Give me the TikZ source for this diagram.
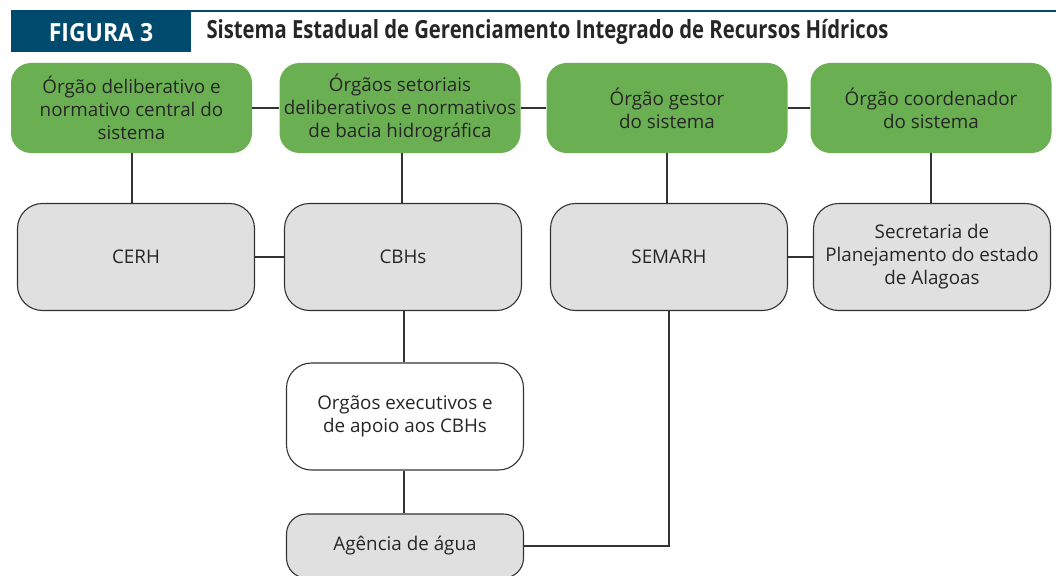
\documentclass[tikz,border=0pt]{standalone}
\usepackage{fontspec}
\setmainfont{Open Sans}
\newfontfamily\titlefont{Open Sans}[FakeStretch=0.81]
\newfontfamily\figfont{Open Sans}[FakeStretch=0.92]
\usepackage{tikz}
\definecolor{figblue}{RGB}{0,74,110}
\definecolor{orggreen}{RGB}{106,176,83}
\definecolor{orggray}{RGB}{224,224,224}
\definecolor{linegray}{RGB}{51,51,51}
\tikzset{
  greenbox/.style={fill=orggreen, rounded corners=20pt, minimum width=241pt, minimum height=90pt, align=center, inner sep=0pt, text=black!85, font=\fontsize{18.8}{23}\selectfont},
  graybox/.style={draw=linegray, line width=1.1pt, fill=orggray, rounded corners=25pt, minimum width=237pt, minimum height=107pt, align=center, inner sep=0pt, text=black!85, font=\fontsize{18.8}{23}\selectfont},
  link/.style={draw=linegray, line width=1.2pt}
}

\begin{document}
\begin{tikzpicture}[x=1pt, y=-1pt]
            \useasboundingbox (0,0) rectangle (1056,575);
            % cabecalho
            \draw[figblue, line width=2pt] (11,11) -- (1056,11);
            \fill[figblue] (11,11) rectangle (191,52);
            \node[text=white, font=\figfont\bfseries\fontsize{25}{28}\selectfont] (fig) at (101,33) {FIGURA 3};
            \node[anchor=west, text=black!85, font=\titlefont\bfseries\fontsize{25}{28}\selectfont] (title) at (203,32) {Sistema Estadual de Gerenciamento Integrado de Recursos Hídricos};

            % orgaos
            \node[greenbox] (central) at (131.5,108) {Órgão deliberativo e\\normativo central do\\sistema};
            \node[greenbox] (setoriais) at (400,108) {Órgãos setoriais\\deliberativos e normativos\\de bacia hidrográfica};
            \node[greenbox] (gestor) at (667,108) {Órgão gestor\\do sistema};
            \node[greenbox] (coord) at (931,108) {Órgão coordenador\\do sistema};

            % entidades
            \node[graybox] (cerh) at (136,257) {CERH};
            \node[graybox] (cbhs) at (403,257) {CBHs};
            \node[graybox] (semarh) at (669,257) {SEMARH};
            \node[graybox] (seplan) at (932,257) {Secretaria de\\Planejamento do estado\\de Alagoas};
            \node[graybox, fill=white] (exec) at (405,416.5) {Orgãos executivos e\\de apoio aos CBHs};
            \node[graybox, minimum height=64pt, rounded corners=20pt] (agua) at (405,546) {Agência de água};

            \draw[link] (central) -- (setoriais);
            \draw[link] (setoriais) -- (gestor);
            \draw[link] (gestor) -- (coord);
            \draw[link] (central.south -| 132,0) -- (cerh.north -| 132,0);
            \draw[link] (setoriais.south -| 402,0) -- (cbhs.north -| 402,0);
            \draw[link] (gestor.south -| 667,0) -- (semarh.north -| 667,0);
            \draw[link] (coord.south -| 931,0) -- (seplan.north -| 931,0);
            \draw[link] (cerh) -- (cbhs);
            \draw[link] (semarh) -- (seplan);
            \draw[link] (cbhs.south -| 404,0) -- (exec.north -| 404,0);
            \draw[link] (exec.south -| 404,0) -- (agua.north -| 404,0);
            \draw[link] (semarh.south -| 669,0) |- (agua.east);
        \end{tikzpicture}
\end{document}
